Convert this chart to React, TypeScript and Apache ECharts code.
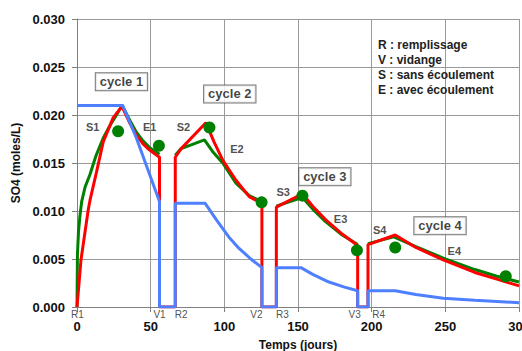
import React, { useEffect, useRef } from "react";
import * as echarts from "echarts";

// Temps (jours) / SO4 (moles/L)
const redData: [number, number][] = [
  [0, 0], [2.7, 0.0049], [7.6, 0.0101], [8.8, 0.0111], [13.3, 0.0141], [17.8, 0.0172], [24.5, 0.0197], [30.5, 0.0209],
  [36, 0.0191], [40.3, 0.0179], [44.8, 0.017], [49.3, 0.01635], [56, 0.0156], [56, 0], [66.7, 0],
  [66.7, 0.0156], [70.7, 0.0165], [87.5, 0.0192], [93, 0.0172], [98.9, 0.0153], [107.9, 0.0132], [116.9, 0.0115], [125.5, 0.0108], [125.5, 0], [135.3, 0],
  [135.3, 0.0104], [153, 0.0118], [160, 0.0105], [168.7, 0.0091], [180, 0.0076], [190.5, 0.0064], [190.5, 0], [197.5, 0],
  [197.5, 0.0065], [216, 0.0075], [230, 0.0062], [248.6, 0.0049], [270, 0.0036], [285, 0.0029], [300, 0.0022],
];

const greenCycle1: [number, number][] = [
  [0, 0], [0.3, 0.0055], [1, 0.0078], [2, 0.0095], [3.2, 0.011], [5.5, 0.0125], [8.8, 0.0138], [13, 0.0158], [17.8, 0.0176],
  [22, 0.0188], [26.8, 0.02], [30.6, 0.021], [36, 0.0194], [40.3, 0.0182], [44.8, 0.0173], [49.3, 0.0166], [56, 0.0159],
];
const greenCycle2: [number, number][] = [
  [66.7, 0.0158], [70.7, 0.0165], [86.5, 0.0174], [92, 0.0162], [98.9, 0.015], [107.9, 0.0129], [116.9, 0.0116], [125.2, 0.011],
];
const greenCycle3: [number, number][] = [
  [135.3, 0.0105], [150.7, 0.0113], [153, 0.0114], [160, 0.0102], [168.7, 0.0089], [180, 0.0075], [190.5, 0.0065],
];
const greenCycle4: [number, number][] = [
  [197.5, 0.0066], [215, 0.0073], [230, 0.0063], [248.6, 0.0051], [270, 0.0039], [285, 0.0032], [300, 0.0026],
];

const blueData: [number, number][] = [
  [0, 0.021], [31, 0.021], [40.3, 0.0176], [49.3, 0.0138], [56, 0.011], [56, 0], [66.7, 0],
  [66.7, 0.0108], [87, 0.0108], [95, 0.009], [103, 0.0073], [110, 0.0061], [118, 0.005], [125.5, 0.0041], [125.5, 0], [135.3, 0],
  [135.3, 0.0041], [152, 0.0041], [160, 0.0034], [171, 0.0026], [181, 0.0021], [190.5, 0.0017], [190.5, 0], [197.5, 0],
  [197.5, 0.0017], [216, 0.0017], [230, 0.0013], [248.6, 0.0009], [270, 0.0007], [300, 0.00045],
];

const measured: [number, number][] = [
  [27.9, 0.0183], [55.6, 0.0168], [89.9, 0.0187], [125.3, 0.0109], [153, 0.0116], [190, 0.0059], [216, 0.0062], [291, 0.0032],
];

const phaseLabels: { text: string; x: number; y: number }[] = [
  { text: "S1", x: 10.6, y: 0.01878 }, { text: "E1", x: 49.3, y: 0.01878 },
  { text: "S2", x: 72.3, y: 0.01878 }, { text: "E2", x: 108.6, y: 0.01643 },
  { text: "S3", x: 139.9, y: 0.01201 }, { text: "E3", x: 178.9, y: 0.00914 },
  { text: "S4", x: 205.4, y: 0.00802 }, { text: "E4", x: 256.1, y: 0.00583 },
];

const eventLabels: { text: string; x: number; y: number }[] = [
  { text: "R1", x: 0.2, y: -0.00075 }, { text: "V1", x: 56, y: -0.00075 },
  { text: "R2", x: 70.7, y: -0.00075 }, { text: "V2", x: 121.8, y: -0.00075 },
  { text: "R3", x: 139.4, y: -0.00075 }, { text: "V3", x: 188.4, y: -0.00075 },
  { text: "R4", x: 204.7, y: -0.00075 },
];

const cycleLabels: { text: string; x: number; y: number }[] = [
  { text: "cycle 1", x: 30.2, y: 0.02347 },
  { text: "cycle 2", x: 103.7, y: 0.02219 },
  { text: "cycle 3", x: 168.2, y: 0.01357 },
  { text: "cycle 4", x: 246.4, y: 0.00846 },
];

const legendLines = ["R : remplissage", "V : vidange", "S : sans écoulement", "E : avec écoulement"];

const FONT = "'Liberation Sans', Arial, sans-serif";
const GREEN = "#008000";
const RED = "#ff0000";
const BLUE = "#4d7fff";

export default function App() {
  const ref = useRef<HTMLDivElement>(null);
  useEffect(() => {
    if (!ref.current) return;
    const chart = echarts.init(ref.current, undefined, { renderer: "svg" });
    const greenStyle = (data: [number, number][]) => ({
      type: "line",
      data,
      showSymbol: false,
      symbol: "none",
      lineStyle: { color: GREEN, width: 3 },
      itemStyle: { color: GREEN },
      z: 2,
    });
    const labelScatter = (items: { text: string; x: number; y: number }[], label: any) => ({
      type: "scatter",
      data: items.map((l) => ({ value: [l.x, l.y], name: l.text })),
      symbolSize: 0,
      clip: false,
      silent: true,
      z: 6,
      label: { show: true, position: "inside", formatter: (p: any) => p.name, fontFamily: FONT, ...label },
    });
    chart.setOption({
      animation: false,
      textStyle: { fontFamily: FONT },
      grid: { left: 77, right: 3, top: 19, bottom: 44, outerBoundsMode: "none", containLabel: false },
      xAxis: {
        type: "value",
        min: 0,
        max: 300,
        interval: 50,
        name: "Temps (jours)",
        nameLocation: "middle",
        nameGap: 32,
        nameTextStyle: { fontFamily: FONT, fontWeight: "bold", fontSize: 12, color: "#111" },
        axisLine: { show: true, lineStyle: { color: "#808080", width: 1 } },
        axisTick: { show: true, length: 5, lineStyle: { color: "#808080" } },
        axisLabel: { fontFamily: FONT, fontWeight: "bold", fontSize: 13, color: "#111", margin: 13 },
        splitLine: { show: true, lineStyle: { color: "#9a9a9a", width: 1 } },
      },
      yAxis: {
        type: "value",
        min: 0,
        max: 0.03,
        interval: 0.005,
        name: "SO4 (moles/L)",
        nameLocation: "middle",
        nameRotate: 90,
        nameGap: 54,
        nameTextStyle: { fontFamily: FONT, fontWeight: "bold", fontSize: 12, color: "#111" },
        axisLine: { show: true, lineStyle: { color: "#808080", width: 1 } },
        axisTick: { show: true, length: 5, lineStyle: { color: "#808080" } },
        axisLabel: {
          fontFamily: FONT,
          fontWeight: "bold",
          fontSize: 13,
          color: "#111",
          margin: 12,
          formatter: (v: number) => v.toFixed(3),
        },
        splitLine: { show: true, lineStyle: { color: "#9a9a9a", width: 1 } },
      },
      series: [
        greenStyle(greenCycle1),
        greenStyle(greenCycle2),
        greenStyle(greenCycle3),
        greenStyle(greenCycle4),
        {
          type: "line",
          data: redData,
          showSymbol: false,
          symbol: "none",
          lineStyle: { color: RED, width: 3 },
          z: 3,
        },
        {
          type: "line",
          data: blueData,
          showSymbol: false,
          symbol: "none",
          lineStyle: { color: BLUE, width: 3 },
          z: 4,
        },
        {
          type: "scatter",
          data: measured,
          symbol: "circle",
          symbolSize: 12,
          itemStyle: { color: GREEN, opacity: 1 },
          z: 5,
        },
        labelScatter(phaseLabels, { fontWeight: "bold", fontSize: 11, color: "#222" }),
        labelScatter(eventLabels, { fontSize: 10, color: "#222", lineHeight: 10 }),
        labelScatter(cycleLabels, {
          fontWeight: "bold",
          fontSize: 13,
          color: "#111",
          backgroundColor: "#fff",
          borderColor: "#555",
          borderWidth: 1,
          padding: [2, 4, 2, 4],
        }),
      ],
      graphic: [
        {
          type: "text",
          left: 378,
          top: 37,
          z: 10,
          style: {
            text: legendLines.join("\n"),
            font: `bold 12px ${FONT}`,
            fill: "#222",
            lineHeight: 15,
          },
        },
      ],
    });
    return () => chart.dispose();
  }, []);
  return (
    <div
      ref={ref}
      style={{ position: "fixed", left: 0, top: 0, width: 522, height: 351, background: "#fff" }}
    />
  );
}
